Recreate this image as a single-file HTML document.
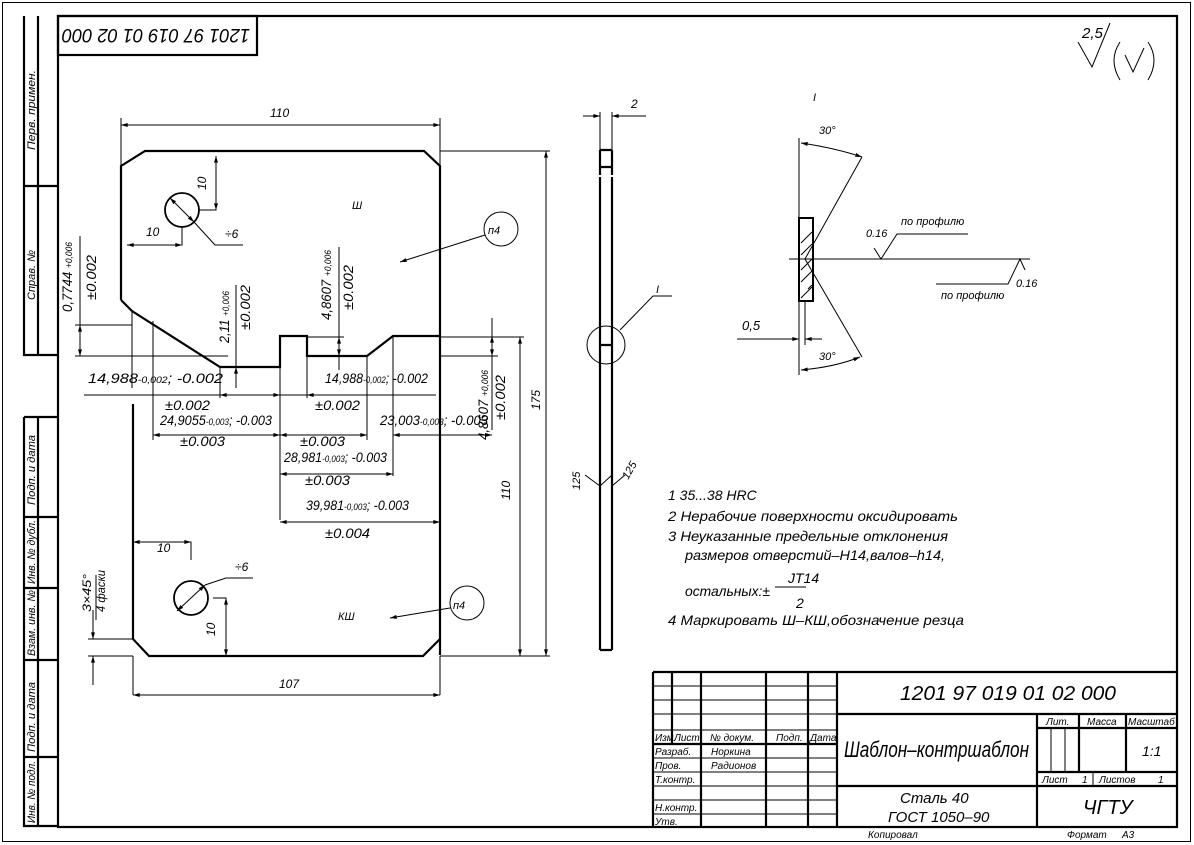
<!DOCTYPE html>
<html><head><meta charset="utf-8"><style>
html,body{margin:0;padding:0;background:#fff}
svg{display:block}
text{font-family:"Liberation Sans","Noto Sans CJK SC",sans-serif;font-style:italic;fill:#000}
.t{stroke:#000;stroke-width:1;fill:none}
.m{stroke:#000;stroke-width:2.2;fill:none}
</style></head><body>
<svg width="1194" height="845" viewBox="0 0 1194 845" xmlns="http://www.w3.org/2000/svg">
<defs><marker id="a" viewBox="0 0 10 6" refX="10" refY="3" markerWidth="10" markerHeight="4" orient="auto-start-reverse" markerUnits="userSpaceOnUse"><path d="M0,0L10,3L0,6z" fill="#000"/></marker></defs>
<rect x="2.5" y="2.5" width="1188" height="839" class="t"/>
<rect x="58" y="16" width="1119" height="811" class="m"/>
<g class="m">
<path d="M24,16V355H58M38,16V355M24,186H58"/>
<path d="M24,417H58M24,417V826H58M38,417V826M24,517H58M24,588H58M24,660H58M24,757H58"/>
</g>
<g font-size="11">
<text transform="translate(35,150) rotate(-90)" textLength="80" lengthAdjust="spacingAndGlyphs">Перв. примен.</text>
<text transform="translate(35,300) rotate(-90)" textLength="50" lengthAdjust="spacingAndGlyphs">Справ. №</text>
<text transform="translate(35,505) rotate(-90)" textLength="70" lengthAdjust="spacingAndGlyphs">Подп. и дата</text>
<text transform="translate(35,584) rotate(-90)" textLength="64" lengthAdjust="spacingAndGlyphs">Инв. № дубл.</text>
<text transform="translate(35,656) rotate(-90)" textLength="66" lengthAdjust="spacingAndGlyphs">Взам. инв. №</text>
<text transform="translate(35,752) rotate(-90)" textLength="70" lengthAdjust="spacingAndGlyphs">Подп. и дата</text>
<text transform="translate(35,823) rotate(-90)" textLength="62" lengthAdjust="spacingAndGlyphs">Инв. № подл.</text>
</g>
<rect x="58" y="16" width="199" height="39" class="m"/>
<text transform="translate(250,29) rotate(180)" font-size="19" textLength="188" lengthAdjust="spacingAndGlyphs">1201 97 019 01 02 000</text>
<!-- roughness -->
<path class="t" d="M1078,42L1092,67L1110,23" stroke-width="2.2"/>
<text x="1082" y="38" font-size="15">2,5</text>
<path class="t" d="M1120,42Q1108,60 1120,80M1148,42Q1160,60 1148,80M1125,55L1133,72L1144,48" stroke-width="1.2"/>

<g class="m">
<path d="M121,300V166L145,151H424L440,166V655"/>
<path d="M121,300L132,311L220,367H280V336H307V356H367L393,336H440"/>
<path d="M133,404V639L149,656H423L440,639"/>
<circle cx="182" cy="210" r="17" stroke-width="1.8"/>
<circle cx="191" cy="598" r="17" stroke-width="1.8"/>
</g>
<g class="t">
<circle cx="501" cy="229" r="17"/>
<circle cx="467" cy="603" r="17"/>
<path d="M121,118V166M440,118V166"/>
<path d="M121,125H440" marker-start="url(#a)" marker-end="url(#a)"/>
<path d="M440,151H550M440,656H550"/>
<path d="M546,151V656" marker-start="url(#a)" marker-end="url(#a)"/>
<path d="M440,337H524"/>
<path d="M520,337V656" marker-start="url(#a)" marker-end="url(#a)"/>
<path d="M133,656V695M440,656V695"/>
<path d="M133,695H440" marker-start="url(#a)" marker-end="url(#a)"/>
<path d="M199,210H216V156"/>
<path d="M216,210V156" marker-start="url(#a)" marker-end="url(#a)"/>
<path d="M182,227V245H127"/>
<path d="M127,245H182" marker-start="url(#a)" marker-end="url(#a)"/>
<path d="M170,198L194,222" marker-start="url(#a)" marker-end="url(#a)"/>
<path d="M194,222L215,245H243"/>
<path d="M177,611L205,585" marker-start="url(#a)" marker-end="url(#a)"/>
<path d="M205,585L226,578H253"/>
<path d="M191,560V542H133"/>
<path d="M133,542H191" marker-start="url(#a)" marker-end="url(#a)"/>
<path d="M213,598H226V656"/>
<path d="M226,598V656" marker-start="url(#a)" marker-end="url(#a)"/>
<path d="M485,235L400,262" marker-end="url(#a)"/>
<path d="M450,608L390,618" marker-end="url(#a)"/>
<path d="M88,639H133M88,656H133"/>
<path d="M93,610V639" marker-end="url(#a)"/><path d="M93,685V656" marker-end="url(#a)"/>
<path d="M96,575V620"/>
<path d="M75,325H132M75,356H228"/>
<path d="M80,236V356"/><path d="M80,325V356" marker-start="url(#a)" marker-end="url(#a)"/>
<path d="M236,285V388"/><path d="M236,367V388" marker-start="url(#a)"/>
<path d="M339,247V370"/><path d="M307,337H344"/>
<path d="M339,337V356" marker-start="url(#a)" marker-end="url(#a)"/>
<path d="M492,318V430"/><path d="M492,336V356" marker-start="url(#a)" marker-end="url(#a)"/>
<path d="M440,356H498"/>
<path d="M84,395H436"/>
<path d="M132,311V388M153,321V440M220,367V398M280,367V520M307,356V398M367,356V440M393,336V476"/>
<path d="M220,395H280" marker-start="url(#a)" marker-end="url(#a)"/>
<path d="M307,395H335" marker-start="url(#a)"/>
<path d="M153,435H280" marker-start="url(#a)" marker-end="url(#a)"/>
<path d="M280,435H367" marker-start="url(#a)" marker-end="url(#a)"/>
<path d="M393,435H492" marker-start="url(#a)" marker-end="url(#a)"/>
<path d="M280,474H393" marker-start="url(#a)" marker-end="url(#a)"/>
<path d="M280,522H440" marker-start="url(#a)" marker-end="url(#a)"/>
</g>
<g font-size="12">
<text x="270" y="117">110</text>
<text x="352" y="209" font-size="11">Ш</text>
<text x="488" y="234" font-size="11">п4</text>
<text x="338" y="620" font-size="11">КШ</text>
<text x="453" y="609" font-size="11">п4</text>
<text x="146" y="236">10</text>
<text transform="translate(206,190) rotate(-90)">10</text>
<text x="225" y="238">÷6</text>
<text x="157" y="552">10</text>
<text x="235" y="571">÷6</text>
<text transform="translate(215,636) rotate(-90)">10</text>
<text x="279" y="688">107</text>
<text transform="translate(510,500) rotate(-90)">110</text>
<text transform="translate(540,410) rotate(-90)">175</text>
<text x="88" y="383" font-size="14" textLength="135" lengthAdjust="spacingAndGlyphs">14,988<tspan font-size="9">-0,002</tspan>; -0.002</text>
<text x="325" y="383" font-size="14" textLength="103" lengthAdjust="spacingAndGlyphs">14,988<tspan font-size="9">-0,002</tspan>; -0.002</text>
<text x="165" y="410" font-size="14" textLength="45" lengthAdjust="spacingAndGlyphs">±0.002</text>
<text x="315" y="410" font-size="14" textLength="45" lengthAdjust="spacingAndGlyphs">±0.002</text>
<text x="160" y="425" font-size="14" textLength="112" lengthAdjust="spacingAndGlyphs">24,9055<tspan font-size="9">-0,003</tspan>; -0.003</text>
<text x="180" y="446" font-size="14" textLength="45" lengthAdjust="spacingAndGlyphs">±0.003</text>
<text x="380" y="425" font-size="14" textLength="108" lengthAdjust="spacingAndGlyphs">23,003<tspan font-size="9">-0,003</tspan>; -0.003</text>
<text x="300" y="446" font-size="14" textLength="45" lengthAdjust="spacingAndGlyphs">±0.003</text>
<text x="284" y="462" font-size="14" textLength="103" lengthAdjust="spacingAndGlyphs">28,981<tspan font-size="9">-0,003</tspan>; -0.003</text>
<text x="305" y="485" font-size="14" textLength="45" lengthAdjust="spacingAndGlyphs">±0.003</text>
<text x="306" y="510" font-size="14" textLength="103" lengthAdjust="spacingAndGlyphs">39,981<tspan font-size="9">-0,003</tspan>; -0.003</text>
<text x="325" y="538" font-size="14" textLength="45" lengthAdjust="spacingAndGlyphs">±0.004</text>
<text transform="translate(72,312) rotate(-90)" font-size="14" textLength="70" lengthAdjust="spacingAndGlyphs">0,7744 <tspan font-size="9">+0,006</tspan></text>
<text transform="translate(96,300) rotate(-90)" font-size="14" textLength="45" lengthAdjust="spacingAndGlyphs">±0.002</text>
<text transform="translate(229,343) rotate(-90)" font-size="14" textLength="52" lengthAdjust="spacingAndGlyphs">2,11 <tspan font-size="9">+0,006</tspan></text>
<text transform="translate(250,330) rotate(-90)" font-size="14" textLength="45" lengthAdjust="spacingAndGlyphs">±0.002</text>
<text transform="translate(331,320) rotate(-90)" font-size="14" textLength="70" lengthAdjust="spacingAndGlyphs">4,8607 <tspan font-size="9">+0,006</tspan></text>
<text transform="translate(353,310) rotate(-90)" font-size="14" textLength="45" lengthAdjust="spacingAndGlyphs">±0.002</text>
<text transform="translate(488,440) rotate(-90)" font-size="14" textLength="70" lengthAdjust="spacingAndGlyphs">4,8607 <tspan font-size="9">+0,006</tspan></text>
<text transform="translate(505,420) rotate(-90)" font-size="14" textLength="45" lengthAdjust="spacingAndGlyphs">±0.002</text>
<text transform="translate(91,612) rotate(-90)" textLength="38" lengthAdjust="spacingAndGlyphs">3×45°</text>
<text transform="translate(105,612) rotate(-90)" textLength="42" lengthAdjust="spacingAndGlyphs">4 фаски</text>
</g>

<g class="m">
<path d="M600,150H612M600,167H612M600,150V175M612,150V175M600,177V650M612,177V650M600,345H612M600,650H612"/>
</g>
<g class="t">
<path d="M600,112V150M612,112V150"/>
<path d="M583,116H600" marker-end="url(#a)"/><path d="M646,116H612" marker-end="url(#a)"/>
<circle cx="606" cy="345" r="19"/>
<path d="M620,330L653,296H672"/>
<path d="M585,475L600,486L612,475M612,486L625,475"/>
</g>
<text x="631" y="108" font-size="12">2</text>
<text x="656" y="293" font-size="11">I</text>
<text transform="translate(580,490) rotate(-90)" font-size="11">125</text>
<text transform="translate(628,480) rotate(-60)" font-size="11">125</text>

<g class="t">
<path d="M799,138V375"/>
<rect x="799" y="218" width="14" height="83" stroke-width="2"/>
<path d="M789,259H1030"/>
<path d="M805,259L862,157M805,259L862,357"/>
<path d="M801,243L812,232M801,255L812,244M808,289L812,285M801,282L812,271M801,270L812,259M801,298L812,287"/>
<path d="M801,143Q835,148 862,157" marker-start="url(#a)" marker-end="url(#a)"/>
<path d="M801,370Q835,367 860,357" marker-start="url(#a)" marker-end="url(#a)"/>
<path d="M737,339H799" marker-end="url(#a)"/><path d="M822,339H805" marker-end="url(#a)"/>
<path d="M805,300V345"/>
<path d="M874,248L881,259L897,234H968"/>
<path d="M936,284H1008L1020,259L1025,270"/>
</g>
<g font-size="11">
<text x="813" y="101">I</text>
<text x="819" y="134">30°</text>
<text x="819" y="360">30°</text>
<text x="742" y="330" font-size="13">0,5</text>
<text x="866" y="237">0.16</text>
<text x="901" y="225">по профилю</text>
<text x="941" y="299">по профилю</text>
<text x="1016" y="287">0.16</text>
</g>

<g font-size="14">
<text x="668" y="500">1  35...38 HRC</text>
<text x="668" y="521" textLength="290" lengthAdjust="spacingAndGlyphs">2  Нерабочие поверхности оксидировать</text>
<text x="668" y="541" textLength="280" lengthAdjust="spacingAndGlyphs">3  Неуказанные предельные отклонения</text>
<text x="685" y="560" textLength="260" lengthAdjust="spacingAndGlyphs">размеров отверстий–H14,валов–h14,</text>
<text x="685" y="596" textLength="85" lengthAdjust="spacingAndGlyphs">остальных:±</text>
<text x="788" y="583">JT14</text>
<text x="796" y="608">2</text>
<text x="668" y="625" textLength="296" lengthAdjust="spacingAndGlyphs">4  Маркировать  Ш–КШ,обозначение резца</text>
</g>
<path class="t" d="M775,587H806"/>

<g class="m">
<path d="M653,672H1177M653,672V827M837,672V827M837,714H1177M653,744H837M837,786H1177M1037,714V827M1037,728H1177M1037,772H1177M1079,714V772M1126,714V772"/>
<path d="M672,672V744M701,672V827M766,672V827M808,672V827"/>
</g>
<g class="t">
<path d="M653,686H837M653,700H837M653,714H837M653,730H837M653,758H837M653,772H837M653,786H837M653,800H837M653,814H837"/>
<path d="M1051,728V772M1065,728V772"/>
<path d="M1093,772V786"/>
</g>
<g font-size="10">
<text x="655" y="741">Изм.</text><text x="674" y="741">Лист</text>
<text x="710" y="741">№ докум.</text><text x="776" y="741">Подп.</text><text x="810" y="741">Дата</text>
<text x="655" y="755">Разраб.</text><text x="711" y="755">Норкина</text>
<text x="655" y="769">Пров.</text><text x="711" y="769">Радионов</text>
<text x="655" y="783">Т.контр.</text>
<text x="655" y="811">Н.контр.</text>
<text x="655" y="825">Утв.</text>
<text x="1046" y="725">Лит.</text><text x="1087" y="725">Масса</text><text x="1128" y="725">Масштаб</text>
<text x="1042" y="783">Лист</text><text x="1082" y="783">1</text>
<text x="1099" y="783">Листов</text><text x="1158" y="783">1</text>
<text x="868" y="838">Копировал</text>
<text x="1067" y="838">Формат</text><text x="1122" y="838">А3</text>
</g>
<text x="900" y="700" font-size="20" textLength="216" lengthAdjust="spacingAndGlyphs">1201 97 019 01 02 000</text>
<text x="844" y="757" font-size="22" textLength="185" lengthAdjust="spacingAndGlyphs">Шаблон–контршаблон</text>
<text x="1142" y="756" font-size="14">1:1</text>
<text x="900" y="803" font-size="15">Сталь 40</text>
<text x="888" y="822" font-size="15">ГОСТ 1050–90</text>
<text x="1083" y="814" font-size="20">ЧГТУ</text>
</svg>
</body></html>
